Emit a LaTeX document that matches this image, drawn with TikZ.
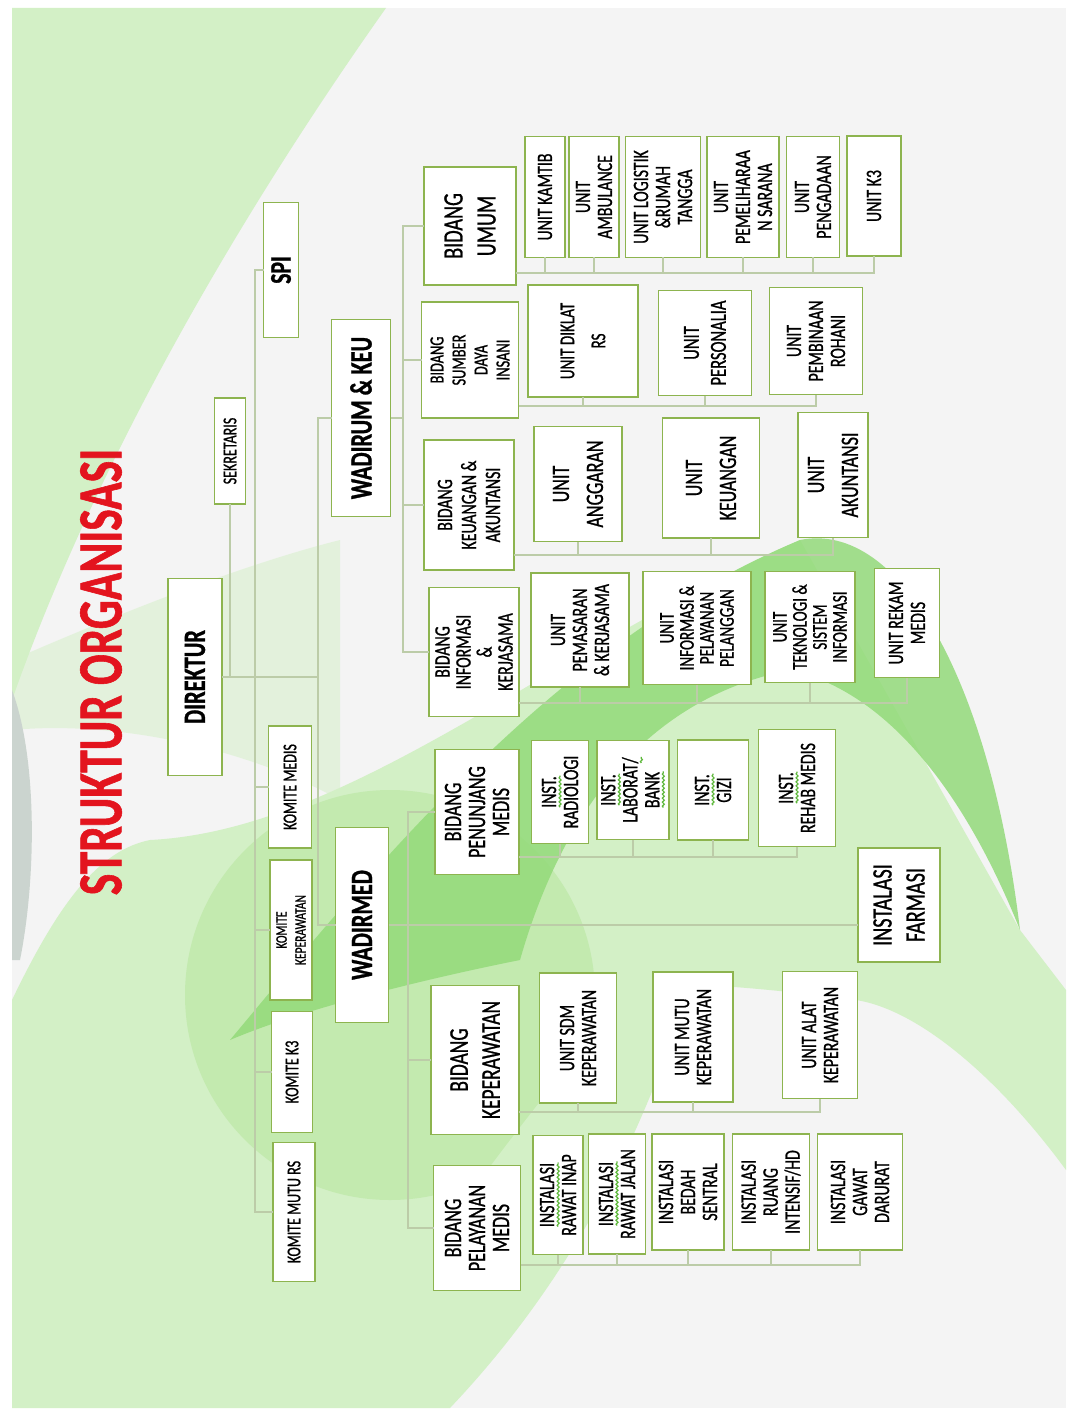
\documentclass[tikz,border=0pt]{standalone}
\usepackage{fontspec}
\usepackage{xcolor}
\usepackage{tikz}
\usetikzlibrary{calc,decorations.pathmorphing}
\newfontfamily\orgfont[FakeStretch=0.72,FakeBold=0.9]{Carlito}
\definecolor{BoxGreen}{HTML}{8DB44F}
\definecolor{OrgLine}{HTML}{BCCCA8}
\definecolor{TitleRed}{HTML}{E3141E}
\definecolor{PageGray}{HTML}{F4F4F4}
\definecolor{LeafLight}{HTML}{D3F0C6}
\definecolor{LeafMid}{HTML}{C3EAAF}
\definecolor{LeafDeep}{HTML}{93DA7A}
\definecolor{EdgeGray}{HTML}{CBD4CF}
\definecolor{SquigGreen}{HTML}{5DB83A}
\newlength{\squigwd}
\newcommand{\squig}[1]{\settowidth{\squigwd}{#1}\rlap{\tikz[baseline=0pt,reset cm]
  \draw[SquigGreen,line width=1.2pt,decorate,decoration={snake,amplitude=1pt,segment length=4pt}]
  (0pt,-4pt) -- (\squigwd,-4pt);}#1}
\newcommand{\orgbox}[6][txtS]{%
  \node[unitbox,#1,minimum height=#4pt,minimum width=#5pt] (#2) at (#3) {#6};%
}
\tikzset{
  unitbox/.style={draw=BoxGreen,line width=1.8pt,fill=white,rotate=90,
                  align=center,inner sep=1pt,outer sep=0pt},
  txtXL/.style={font=\orgfont\bfseries\fontsize{31}{36}\selectfont},
  txtSPI/.style={font=\orgfont\bfseries\fontsize{30}{34}\selectfont},
  txtB/.style={font=\orgfont\fontsize{28}{33}\selectfont},
  txtL/.style={font=\orgfont\fontsize{25}{34}\selectfont},
  txtM/.style={font=\orgfont\fontsize{25}{24}\selectfont},
  txtS/.style={font=\orgfont\fontsize{22}{22}\selectfont},
  txtT/.style={font=\orgfont\fontsize{21}{20}\selectfont},
  txtK/.style={font=\orgfont\fontsize{19.5}{22}\selectfont},
  txtKK/.style={font=\orgfont\fontsize{16}{19}\selectfont},
  orgline/.style={draw=OrgLine,line width=1.3pt},
}

\begin{document}
\begin{tikzpicture}[x=1pt,y=-1pt]
  \useasboundingbox (0,0) rectangle (1073,1412);
  % background
  \fill[white] (0,0) rectangle (1073,1412);
  \fill[PageGray] (12,8) rectangle (1066,1408);
  \fill[LeafLight] (12,8) -- (386,8) .. controls (250,200) and (100,450) .. (12,700) -- cycle;
  \fill[LeafLight,opacity=.5] (12,660) .. controls (150,600) and (260,560) .. (340,540)
    -- (340,800) .. controls (250,750) and (120,720) .. (12,730) -- cycle;
  \fill[EdgeGray] (12,690) .. controls (38,760) and (36,880) .. (20,960) -- (12,960) -- cycle;
  \fill[LeafLight] (12,1000) .. controls (60,900) and (100,850) .. (150,840)
    .. controls (350,830) and (550,650) .. (800,540) -- (1020,930) -- (1066,990)
    -- (1066,1170) .. controls (1000,1080) and (920,1010) .. (856,1000)
    .. controls (780,990) and (720,985) .. (690,985)
    .. controls (660,1080) and (600,1250) .. (450,1408) -- (12,1408) -- cycle;
  \fill[LeafMid] (390,995) circle[radius=205pt];
  \fill[LeafDeep,opacity=.85] (230,1040) .. controls (380,860) and (560,640) .. (800,540)
    .. controls (900,520) and (990,680) .. (1020,930)
    .. controls (960,780) and (880,690) .. (790,670)
    .. controls (640,700) and (560,820) .. (520,960)
    .. controls (420,980) and (300,1010) .. (230,1040) -- cycle;
  \fill[LeafLight] (690,930) .. controls (660,1050) and (600,1150) .. (540,1250)
    -- (430,1250) .. controls (520,1120) and (620,1000) .. (690,930) -- cycle;

  % title
  \node[rotate=90,text=TitleRed,font=\orgfont\bfseries\fontsize{63}{70}\selectfont]
    (title) at (101,672) {STRUKTUR ORGANISASI};

  % direksi dan komite
  \orgbox[txtXL]{direktur}{195,677}{54}{197}{DIREKTUR}
  \orgbox[txtK]{sekretaris}{230,451}{31}{106}{SEKRETARIS}
  \orgbox[txtSPI]{spi}{281,270}{35}{135}{SPI}
  \orgbox[txtXL]{wadirum}{361,418}{59}{197}{WADIRUM \& KEU}
  \orgbox[txtXL]{wadirmed}{362,925}{53}{195}{WADIRMED}
  \orgbox[txtK]{komitemedis}{290,787}{43}{122}{KOMITE MEDIS}
  \orgbox[txtKK]{komitekep}{291,930}{42}{140}{KOMITE\\KEPERAWATAN}
  \orgbox[txtK]{komitek3}{292,1072}{41}{121}{KOMITE K3}
  \orgbox[txtK]{komitemutu}{294,1212}{42}{139}{KOMITE MUTU RS}

  % bidang
  \orgbox[txtB]{bumum}{470,226}{92}{118}{BIDANG\\UMUM}
  \orgbox[font=\orgfont\fontsize{20}{22}\selectfont]{bsdi}{470,360}{97}{116}{BIDANG\\SUMBER\\DAYA\\INSANI}
  \orgbox[font=\orgfont\fontsize{22}{24}\selectfont]{bkeu}{469,505}{90}{130}{BIDANG\\KEUANGAN \&\\AKUNTANSI}
  \orgbox[font=\orgfont\fontsize{22}{21}\selectfont]{binfo}{474,652}{90}{129}{BIDANG\\INFORMASI\\\&\\KERJASAMA}
  \orgbox[txtM]{bpenunjang}{477,812}{84}{125}{BIDANG\\PENUNJANG\\MEDIS}
  \orgbox[font=\orgfont\fontsize{27}{32}\selectfont]{bkep}{475,1060}{88}{149}{BIDANG\\KEPERAWATAN}
  \orgbox[txtM]{bpelayanan}{477,1228}{87}{125}{BIDANG\\PELAYANAN\\MEDIS}

  % unit bidang umum
  \orgbox{ukamtib}{545,197}{40}{121}{UNIT KAMTIB}
  \orgbox{uambulance}{594,197}{50}{121}{UNIT\\AMBULANCE}
  \orgbox{ulogistik}{663,197}{75}{121}{UNIT LOGISTIK\\\&RUMAH\\TANGGA}
  \orgbox{upemeliharaan}{743,197}{72}{121}{UNIT\\PEMELIHARAA\\N SARANA}
  \orgbox{upengadaan}{813,197}{53}{121}{UNIT\\PENGADAAN}
  \orgbox{uk3}{874,196}{54}{120}{UNIT K3}

  % unit sdi
  \orgbox[font=\orgfont\fontsize{21}{31}\selectfont]{udiklat}{583,341}{110}{112}{UNIT DIKLAT\\RS}
  \orgbox[font=\orgfont\fontsize{23}{27}\selectfont]{upersonalia}{705,343}{93}{105}{UNIT\\PERSONALIA}
  \orgbox{urohani}{816,341}{93}{107}{UNIT\\PEMBINAAN\\ROHANI}

  % unit keuangan
  \orgbox[txtL]{uanggaran}{578,484}{88}{115}{UNIT\\ANGGARAN}
  \orgbox[txtL]{ukeuangan}{711,478}{97}{120}{UNIT\\KEUANGAN}
  \orgbox[txtL]{uakuntansi}{833,475}{70}{125}{UNIT\\AKUNTANSI}

  % unit informasi
  \orgbox{upemasaran}{580,630}{98}{114}{UNIT\\PEMASARAN\\\& KERJASAMA}
  \orgbox[txtT]{uinfo}{697,628}{108}{113}{UNIT\\INFORMASI \&\\PELAYANAN\\PELANGGAN}
  \orgbox[txtT]{uteknologi}{810,627}{90}{111}{UNIT\\TEKNOLOGI \&\\SISTEM\\INFORMASI}
  \orgbox{urekam}{907,623}{65}{109}{UNIT REKAM\\MEDIS}

  % instalasi penunjang
  \orgbox{iradiologi}{560,792}{57}{103}{\squig{INST.}\\RADIOLOGI}
  \orgbox{ilaborat}{633,790}{72}{99}{\squig{INST.}\\LABORAT\squig{/}\\\squig{BANK}}
  \orgbox{igizi}{713,790}{71}{100}{\squig{INST.}\\GIZI}
  \orgbox{irehab}{797,788}{77}{117}{\squig{INST.}\\REHAB MEDIS}
  \orgbox[txtB]{ifarmasi}{899,905}{82}{114}{INSTALASI\\FARMASI}

  % unit keperawatan
  \orgbox{usdmkep}{578,1038}{77}{130}{UNIT SDM\\KEPERAWATAN}
  \orgbox{umutukep}{693,1037}{80}{130}{UNIT MUTU\\KEPERAWATAN}
  \orgbox{ualatkep}{820,1035}{75}{127}{UNIT ALAT\\KEPERAWATAN}

  % instalasi pelayanan
  \orgbox{irawatinap}{558,1195}{50}{119}{\squig{INSTALASI}\\RAWAT INAP}
  \orgbox{irawatjalan}{617,1194}{57}{120}{\squig{INSTALASI}\\RAWAT JALAN}
  \orgbox{ibedah}{688,1192}{72}{116}{INSTALASI\\BEDAH\\SENTRAL}
  \orgbox{iintensif}{771,1192}{77}{116}{INSTALASI\\RUANG\\INTENSIF/HD}
  \orgbox{igawat}{860,1192}{85}{116}{INSTALASI\\GAWAT\\DARURAT}

  % garis direksi
  \coordinate (kspine) at (255,0);
  \coordinate (wspine) at (318,0);
  \coordinate (uspine) at (403,0);
  \coordinate (mspine) at (408,0);
  \draw[orgline] (spi.north) -- (spi.north -| kspine) |- (komitemutu.north);
  \foreach \k in {komitemedis,komitekep,komitek3}
    \draw[orgline] (\k.north) -- (\k.north -| kspine);
  \draw[orgline] (direktur.south) -- (direktur.south -| wspine);
  \draw[orgline] (sekretaris.west) -- (sekretaris.west |- direktur.south);
  \draw[orgline] (wadirum.north) -- (wadirum.north -| wspine) |- (wadirmed.north);

  % garis bidang
  \draw[orgline] (wadirum.south) -- (wadirum.south -| uspine);
  \draw[orgline] (bumum.north) -- (bumum.north -| uspine) |- (binfo.north);
  \foreach \b in {bsdi,bkeu}
    \draw[orgline] (\b.north) -- (\b.north -| uspine);
  \draw[orgline] (wadirmed.south) -- (wadirmed.south -| ifarmasi.north);
  \draw[orgline] (bpenunjang.north) -- (bpenunjang.north -| mspine) |- (bpelayanan.north);
  \draw[orgline] (bkep.north) -- (bkep.north -| mspine);

  % garis unit
  \coordinate (busumum) at (0,273);
  \coordinate (bussdi) at (0,406);
  \coordinate (buskeu) at (0,555);
  \coordinate (businfo) at (0,703);
  \coordinate (buspen) at (0,857);
  \coordinate (buskep) at (0,1112);
  \coordinate (buspel) at (0,1265);
  \draw[orgline] (bumum.south |- busumum) -| (uk3);
  \foreach \u in {ukamtib,uambulance,ulogistik,upemeliharaan,upengadaan}
    \draw[orgline] (\u) -- (\u |- busumum);
  \draw[orgline] (bsdi.south |- bussdi) -| (urohani);
  \foreach \u in {udiklat,upersonalia}
    \draw[orgline] (\u) -- (\u |- bussdi);
  \draw[orgline] (bkeu.south |- buskeu) -| (uakuntansi);
  \foreach \u in {uanggaran,ukeuangan}
    \draw[orgline] (\u) -- (\u |- buskeu);
  \draw[orgline] (binfo.south |- businfo) -| (urekam);
  \foreach \u in {upemasaran,uinfo,uteknologi}
    \draw[orgline] (\u) -- (\u |- businfo);
  \draw[orgline] (bpenunjang.south |- buspen) -| (irehab);
  \foreach \u in {iradiologi,ilaborat,igizi}
    \draw[orgline] (\u) -- (\u |- buspen);
  \draw[orgline] (bkep.south |- buskep) -| (ualatkep);
  \foreach \u in {usdmkep,umutukep}
    \draw[orgline] (\u) -- (\u |- buskep);
  \draw[orgline] (bpelayanan.south |- buspel) -| (igawat);
  \foreach \u in {irawatinap,irawatjalan,ibedah,iintensif}
    \draw[orgline] (\u) -- (\u |- buspel);
\end{tikzpicture}
\end{document}
